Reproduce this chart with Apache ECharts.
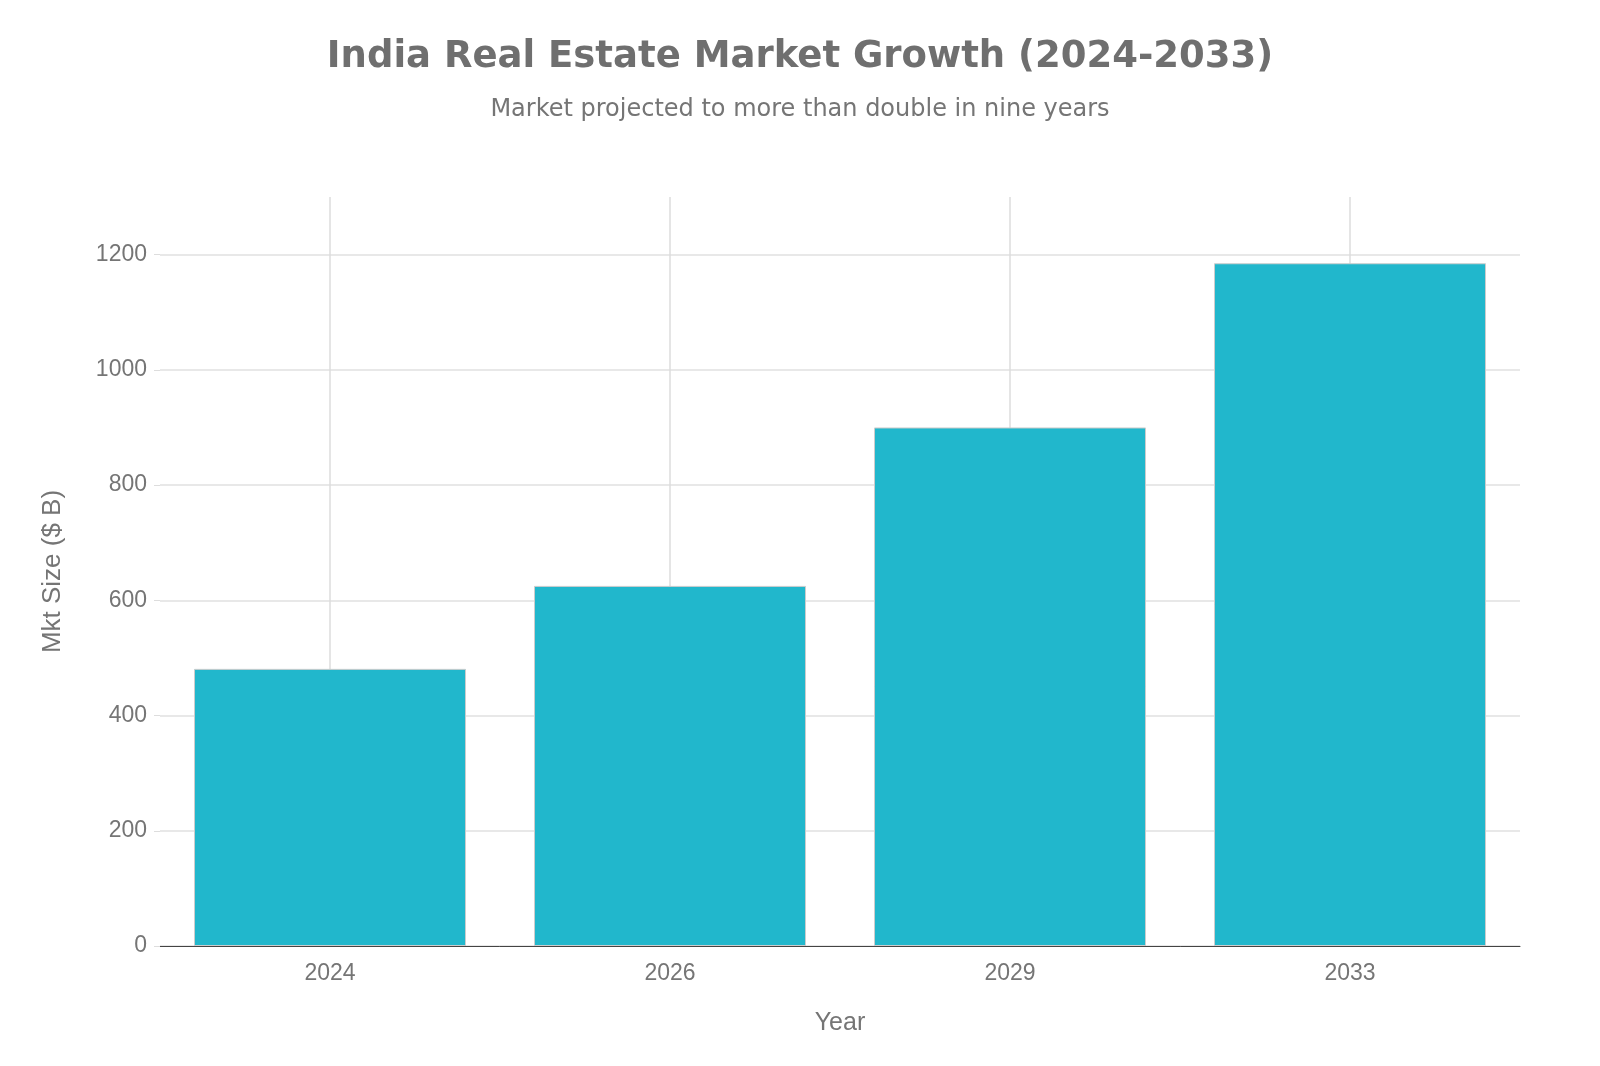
<!DOCTYPE html>
<html>
<head>
<meta charset="utf-8">
<script src="https://cdn.jsdelivr.net/npm/echarts@6/dist/echarts.min.js"></script>
<style>
    html, body { margin: 0; padding: 0; background: #fff; }
    #chart { width: 1600px; height: 1066px; }
</style>
</head>
<body>
<div id="chart"></div>
<script>
const years = ['2024', '2026', '2029', '2033'];
const marketSize = [481, 625, 900, 1185];
const yTicks = { min: 0, max: 1300, interval: 200 };

const textGrey = '#757575';
const axisFont = 'Liberation Sans';

const options = {
    backgroundColor: '#ffffff',
    title: {
        text: 'India Real Estate Market Growth (2024-2033)',
        subtext: 'Market projected to more than double in nine years',
        left: 'center',
        top: 34,
        itemGap: 22,
        textStyle: {
            fontFamily: 'DejaVu Sans',
            fontWeight: 'bold',
            fontSize: 37,
            color: '#6f6f6f',
        },
        subtextStyle: {
            fontFamily: 'DejaVu Sans',
            fontSize: 24,
            color: textGrey,
        },
    },
    grid: {
        left: 160,
        right: 80,
        top: 197,
        bottom: 120,
    },
    xAxis: {
        type: 'category',
        data: years,
        name: 'Year',
        nameLocation: 'middle',
        nameGap: 65,
        nameTextStyle: { fontFamily: axisFont, fontSize: 25, color: textGrey },
        axisLine: { lineStyle: { color: '#444', width: 1 } },
        axisTick: { alignWithLabel: true, length: 7, lineStyle: { color: '#ddd' } },
        axisLabel: { fontFamily: axisFont, fontSize: 23, color: textGrey, margin: 16 },
        splitLine: { show: false },
    },
    yAxis: {
        type: 'value',
        min: yTicks.min,
        max: yTicks.max,
        interval: yTicks.interval,
        name: 'Mkt Size ($ B)',
        nameLocation: 'middle',
        nameGap: 94,
        nameTextStyle: { fontFamily: axisFont, fontSize: 26, color: textGrey },
        axisLine: { show: false },
        axisTick: { show: true, length: 6, lineStyle: { color: '#ddd' } },
        axisLabel: {
            fontFamily: axisFont,
            fontSize: 23,
            color: textGrey,
            margin: 13,
            showMaxLabel: false,
            formatter: v => String(v),
        },
        splitLine: { showMaxLine: false, lineStyle: { color: '#e0e0e0', width: 1.5 } },
    },
    series: [
        {
            type: 'bar',
            data: marketSize,
            barCategoryGap: '20%',
            itemStyle: {
                color: '#21b7cc',
                borderColor: '#cccccc',
                borderWidth: 1,
            },
            // vertical grid lines through the category centres, behind the bars
            markLine: {
                z: 1,
                silent: true,
                symbol: 'none',
                label: { show: false },
                lineStyle: { color: '#dddddd', width: 1.5, type: 'solid' },
                data: years.map(y => ({ xAxis: y })),
            },
        },
    ],
};

const barChart = echarts.init(document.getElementById('chart'));
barChart.setOption(options);
</script>
</body>
</html>
